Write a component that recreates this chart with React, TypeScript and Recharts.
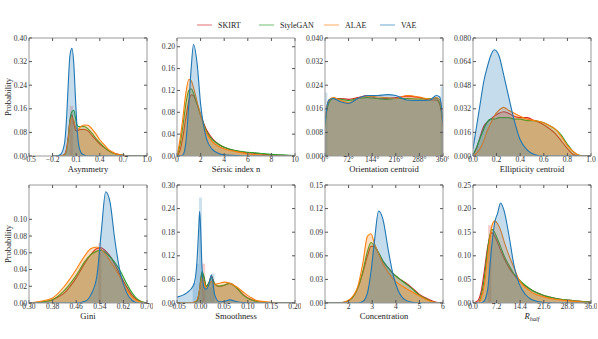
import React from 'react';
import { ComposedChart, Area, XAxis, YAxis, ReferenceArea } from 'recharts';

const FONT = '"Liberation Serif", "DejaVu Serif", serif';
const C_SKIRT = '#d62728';
const C_STYLEGAN = '#2ca02c';
const C_ALAE = '#ff7f0e';
const C_VAE = '#1f77b4';

const legendNames = ['SKIRT', 'StyleGAN', 'ALAE', 'VAE'];

// Panel 1: Asymmetry
const asymX = [-0.2, -0.15, -0.1, -0.05, -0.02, 0, 0.02, 0.045, 0.07, 0.09, 0.11, 0.13, 0.16, 0.2, 0.25, 0.3, 0.35, 0.4, 0.45, 0.5, 0.55, 0.6, 0.7, 0.8, 1.0];
const asymSkirt = [0, 0, 0, 0.005, 0.03, 0.07, 0.12, 0.14, 0.11, 0.088, 0.085, 0.088, 0.09, 0.09, 0.085, 0.07, 0.055, 0.04, 0.03, 0.02, 0.013, 0.008, 0.002, 0, 0];
const asymStyleGAN = [0, 0, 0, 0.003, 0.02, 0.06, 0.12, 0.15, 0.155, 0.13, 0.105, 0.1, 0.1, 0.1, 0.092, 0.078, 0.06, 0.045, 0.032, 0.02, 0.012, 0.007, 0.002, 0, 0];
const asymALAE = [0, 0, 0, 0.004, 0.025, 0.06, 0.11, 0.13, 0.12, 0.1, 0.09, 0.092, 0.1, 0.105, 0.104, 0.092, 0.075, 0.055, 0.04, 0.025, 0.015, 0.008, 0.002, 0, 0];
const asymVAE = [0, 0, 0.005, 0.04, 0.14, 0.25, 0.34, 0.365, 0.31, 0.2, 0.1, 0.04, 0.012, 0.003, 0, 0, 0, 0, 0, 0, 0, 0, 0, 0, 0];
const asymHistEdges = [0.017, 0.06];
const asymHistSkirt = [0.17];

// Panel 2: Sersic index
const sersicX = [0, 0.25, 0.5, 0.75, 1.0, 1.2, 1.4, 1.7, 2.0, 2.5, 3, 3.5, 4, 5, 6, 7, 8, 9, 10];
const sersicSkirt = [0, 0.01, 0.035, 0.07, 0.1, 0.112, 0.11, 0.095, 0.075, 0.048, 0.032, 0.022, 0.016, 0.009, 0.006, 0.004, 0.002, 0.001, 0.0005];
const sersicStyleGAN = [0, 0.02, 0.055, 0.095, 0.12, 0.123, 0.115, 0.095, 0.075, 0.045, 0.03, 0.022, 0.016, 0.01, 0.007, 0.005, 0.003, 0.002, 0.001];
const sersicALAE = [0, 0.03, 0.07, 0.115, 0.14, 0.138, 0.125, 0.1, 0.075, 0.042, 0.026, 0.018, 0.013, 0.008, 0.004, 0.002, 0.001, 0.0005, 0];
const sersicVAE = [0, 0, 0.002, 0.025, 0.095, 0.16, 0.204, 0.17, 0.095, 0.032, 0.012, 0.005, 0.002, 0.001, 0, 0, 0, 0, 0];

// Panel 3: Orientation centroid
const orientX = [0, 5, 12, 25, 45, 72, 100, 130, 160, 190, 216, 250, 288, 320, 340, 350, 355, 360];
const orientSkirt = [0.011, 0.016, 0.0185, 0.0195, 0.0195, 0.0192, 0.0198, 0.0205, 0.0195, 0.0195, 0.0198, 0.0203, 0.0198, 0.019, 0.019, 0.0175, 0.015, 0.01];
const orientStyleGAN = [0.01, 0.015, 0.018, 0.0195, 0.0193, 0.0188, 0.0195, 0.0198, 0.0195, 0.0192, 0.0195, 0.0195, 0.0193, 0.0195, 0.0195, 0.018, 0.0155, 0.011];
const orientALAE = [0.011, 0.016, 0.019, 0.0198, 0.019, 0.018, 0.0195, 0.0203, 0.02, 0.0198, 0.0195, 0.0205, 0.02, 0.0193, 0.0198, 0.019, 0.0165, 0.0105];
const orientVAE = [0.011, 0.016, 0.019, 0.0195, 0.0185, 0.0178, 0.0195, 0.0205, 0.0205, 0.0208, 0.0205, 0.019, 0.0188, 0.019, 0.0205, 0.02, 0.017, 0.011];
const orientHistEdges = [0, 7.2, 352.8, 360];
const orientHistVAE = [0.0215, 0, 0.0235];

// Panel 4: Ellipticity centroid
const ellipX = [0, 0.03, 0.06, 0.09, 0.12, 0.15, 0.18, 0.22, 0.26, 0.3, 0.35, 0.4, 0.46, 0.52, 0.58, 0.64, 0.7, 0.75, 0.8, 0.85, 0.9, 1.0];
const ellipSkirt = [0.001, 0.005, 0.013, 0.02, 0.023, 0.025, 0.027, 0.029, 0.03, 0.029, 0.027, 0.026, 0.026, 0.024, 0.022, 0.019, 0.015, 0.01, 0.005, 0.001, 0, 0];
const ellipStyleGAN = [0.001, 0.006, 0.012, 0.018, 0.023, 0.025, 0.025, 0.026, 0.026, 0.026, 0.025, 0.025, 0.024, 0.024, 0.023, 0.021, 0.018, 0.014, 0.008, 0.003, 0.0005, 0];
const ellipALAE = [0, 0.002, 0.005, 0.01, 0.017, 0.022, 0.027, 0.031, 0.033, 0.031, 0.029, 0.027, 0.025, 0.024, 0.023, 0.021, 0.018, 0.013, 0.007, 0.003, 0.0005, 0];
const ellipVAE = [0.005, 0.02, 0.035, 0.05, 0.06, 0.068, 0.072, 0.068, 0.055, 0.041, 0.024, 0.011, 0.004, 0.001, 0, 0, 0, 0, 0, 0, 0, 0];

// Panel 5: Gini
const giniX = [0.3, 0.34, 0.38, 0.42, 0.46, 0.49, 0.51, 0.53, 0.545, 0.56, 0.575, 0.59, 0.61, 0.63, 0.65, 0.67, 0.7];
const giniSkirt = [0, 0.001, 0.004, 0.012, 0.03, 0.048, 0.058, 0.065, 0.066, 0.062, 0.056, 0.047, 0.033, 0.02, 0.009, 0.003, 0];
const giniStyleGAN = [0, 0.001, 0.004, 0.015, 0.033, 0.05, 0.058, 0.062, 0.063, 0.06, 0.055, 0.049, 0.038, 0.024, 0.012, 0.004, 0];
const giniALAE = [0, 0.002, 0.006, 0.02, 0.04, 0.057, 0.065, 0.067, 0.064, 0.058, 0.05, 0.042, 0.03, 0.016, 0.007, 0.002, 0];
const giniVAE = [0, 0, 0, 0, 0, 0.002, 0.01, 0.032, 0.085, 0.133, 0.12, 0.078, 0.035, 0.013, 0.003, 0, 0];
const giniHistEdges = [0.535, 0.545];
const giniHistSkirt = [0.072];

// Panel 6: Smoothness
const smoothX = [-0.05, -0.03, -0.015, -0.008, -0.004, -0.002, 0.0, 0.003, 0.007, 0.012, 0.017, 0.023, 0.03, 0.04, 0.05, 0.062, 0.075, 0.09, 0.105, 0.12, 0.15, 0.2];
const smoothSkirt = [0, 0, 0.001, 0.005, 0.02, 0.035, 0.055, 0.075, 0.065, 0.042, 0.05, 0.068, 0.048, 0.042, 0.045, 0.05, 0.04, 0.022, 0.01, 0.004, 0.001, 0];
const smoothStyleGAN = [0, 0, 0.001, 0.005, 0.02, 0.035, 0.058, 0.08, 0.068, 0.043, 0.05, 0.065, 0.048, 0.043, 0.046, 0.05, 0.04, 0.02, 0.009, 0.004, 0.001, 0];
const smoothALAE = [0, 0, 0.002, 0.007, 0.022, 0.035, 0.05, 0.065, 0.055, 0.037, 0.045, 0.055, 0.048, 0.05, 0.053, 0.05, 0.042, 0.028, 0.015, 0.006, 0.002, 0];
const smoothVAE = [0.015, 0.025, 0.045, 0.1, 0.19, 0.233, 0.19, 0.09, 0.04, 0.035, 0.045, 0.072, 0.02, 0.003, 0.004, 0.008, 0.004, 0.001, 0, 0, 0, 0];
const smoothHistEdges = [-0.0167, -0.01, -0.0035, 0.003, 0.0097, 0.0163, 0.023, 0.0297];
const smoothHistVAE = [0.05, 0.1, 0.268, 0.06, 0.035, 0.04, 0.075];
const smoothHistSkirt = [0, 0, 0, 0.1, 0, 0, 0];

// Panel 7: Concentration
const concX = [1, 1.5, 1.8, 2.1, 2.4, 2.6, 2.8, 2.95, 3.1, 3.27, 3.45, 3.7, 3.9, 4.1, 4.4, 4.7, 5.0, 5.3, 5.6, 6];
const concSkirt = [0, 0, 0.001, 0.005, 0.02, 0.038, 0.06, 0.072, 0.072, 0.063, 0.053, 0.044, 0.037, 0.032, 0.026, 0.019, 0.011, 0.006, 0.002, 0];
const concStyleGAN = [0, 0, 0.001, 0.005, 0.02, 0.04, 0.066, 0.077, 0.072, 0.064, 0.054, 0.044, 0.037, 0.032, 0.025, 0.018, 0.01, 0.005, 0.001, 0];
const concALAE = [0, 0, 0.001, 0.006, 0.022, 0.05, 0.085, 0.088, 0.075, 0.063, 0.05, 0.038, 0.03, 0.025, 0.019, 0.014, 0.009, 0.004, 0.001, 0];
const concVAE = [0, 0, 0, 0, 0, 0.002, 0.013, 0.04, 0.08, 0.117, 0.107, 0.064, 0.034, 0.016, 0.004, 0.001, 0, 0, 0, 0];

// Panel 8: R_half
const rhalfX = [0, 1.5, 2.5, 3.5, 4.5, 5.7, 6.6, 7.5, 8.4, 9.5, 11, 12.5, 14, 16, 18, 21.6, 25, 28.8, 32, 36];
const rhalfSkirt = [0, 0.005, 0.025, 0.07, 0.12, 0.149, 0.142, 0.128, 0.112, 0.095, 0.075, 0.06, 0.048, 0.036, 0.027, 0.016, 0.01, 0.006, 0.004, 0.002];
const rhalfStyleGAN = [0, 0, 0.015, 0.055, 0.115, 0.156, 0.15, 0.135, 0.12, 0.1, 0.08, 0.062, 0.05, 0.037, 0.027, 0.016, 0.01, 0.006, 0.004, 0.002];
const rhalfALAE = [0, 0, 0.01, 0.04, 0.1, 0.162, 0.174, 0.168, 0.155, 0.13, 0.1, 0.075, 0.05, 0.033, 0.022, 0.013, 0.008, 0.005, 0.003, 0.001];
const rhalfVAE = [0, 0, 0, 0.005, 0.03, 0.12, 0.17, 0.19, 0.212, 0.195, 0.142, 0.08, 0.042, 0.018, 0.007, 0.001, 0, 0, 0, 0];
const rhalfHistEdges = [4.6, 5.6];
const rhalfHistSkirt = [0.165];

// Tick values
const asymXTicks = [-0.5, -0.2, 0.1, 0.4, 0.7, 1.0];
const asymYTicks = [0, 0.08, 0.16, 0.24, 0.32, 0.4];
const sersicXTicks = [0, 2, 4, 6, 8, 10];
const sersicYTicks = [0, 0.04, 0.08, 0.12, 0.16, 0.2];
const orientXTicks = [0, 72, 144, 216, 288, 360];
const orientYTicks = [0, 0.008, 0.016, 0.024, 0.032, 0.04];
const ellipXTicks = [0, 0.2, 0.4, 0.6, 0.8, 1.0];
const ellipYTicks = [0, 0.016, 0.032, 0.048, 0.064, 0.08];
const giniXTicks = [0.3, 0.38, 0.46, 0.54, 0.62, 0.7];
const giniYTicks = [0, 0.02, 0.04, 0.06, 0.08, 0.1];
const smoothXTicks = [-0.05, 0, 0.05, 0.1, 0.15, 0.2];
const smoothYTicks = [0, 0.06, 0.12, 0.18, 0.24, 0.3];
const concXTicks = [1, 2, 3, 4, 5, 6];
const concYTicks = [0, 0.03, 0.06, 0.09, 0.12, 0.15];
const rhalfXTicks = [0, 7.2, 14.4, 21.6, 28.8, 36];
const rhalfYTicks = [0, 0.05, 0.1, 0.15, 0.2, 0.25];

const fmt = (d: number) => (v: number) => {
  const s = v.toFixed(d);
  return s.startsWith('-') ? '\u2212' + s.slice(1) : s;
};
const deg = (v: number) => `${v}\u00b0`;

type Hist = { edges: number[]; values: number[]; color: string };

type PanelDef = {
  xs: number[]; skirt: number[]; stylegan: number[]; alae: number[]; vae: number[];
  xDomain: [number, number]; xTicks: number[]; xFmt: (v: number) => string;
  yDomain: [number, number]; yTicks: number[]; yFmt: (v: number) => string;
  label: React.ReactNode; left: number; top: number; yLabel?: boolean; hists?: Hist[];
};

const W = 118;
const H = 118;
const YW = 30;
const XH = 22;
const MT = 3;
const MR = 5;

const TICK_STYLE = { fontSize: 7.6, fill: '#333', fontFamily: FONT };
const FRAME = { stroke: '#9a9a9a' };
const TICKLINE = { stroke: '#555' };

const makeXLabel = (content: React.ReactNode) => (props: any) => {
  const vb = props.viewBox || { x: 0, y: 0, width: 0, height: 0 };
  return (
    <text x={vb.x + vb.width / 2} y={vb.y + 15.5} textAnchor="middle" fontSize={8.6} fontFamily={FONT} fill="#222">
      {content}
    </text>
  );
};

const yLabelContent = (props: any) => {
  const vb = props.viewBox || { x: 0, y: 0, width: 0, height: 0 };
  const cx = vb.x + 9;
  const cy = vb.y + vb.height / 2;
  return (
    <text x={cx} y={cy} transform={`rotate(-90, ${cx}, ${cy})`} textAnchor="middle" dominantBaseline="central" fontSize={8.6} fontFamily={FONT} fill="#222">
      Probability
    </text>
  );
};

const Panel = ({ p }: { p: PanelDef }) => {
  const data = p.xs.map((x, i) => ({ x, skirt: p.skirt[i], stylegan: p.stylegan[i], alae: p.alae[i], vae: p.vae[i] }));
  const series: [string, string][] = [['skirt', C_SKIRT], ['stylegan', C_STYLEGAN], ['alae', C_ALAE], ['vae', C_VAE]];
  const bars: React.ReactNode[] = [];
  (p.hists || []).forEach((h, hi) => {
    h.values.forEach((v, i) => {
      if (v > 0) {
        bars.push(
          <ReferenceArea key={`h${hi}-${i}`} x1={h.edges[i]} x2={h.edges[i + 1]} y1={0} y2={v}
            fill={h.color} fillOpacity={0.22} stroke="none" ifOverflow="hidden" />
        );
      }
    });
  });
  return (
    <div style={{ position: 'absolute', left: p.left - YW, top: p.top - MT - 1 }}>
      <ComposedChart width={YW + W + 1 + MR} height={MT + 1 + H + XH} data={data} margin={{ top: MT, right: MR, bottom: 0, left: 0 }}>
        <XAxis dataKey="x" type="number" domain={p.xDomain} ticks={p.xTicks} tickFormatter={p.xFmt} allowDataOverflow
          height={XH} interval={0} tick={TICK_STYLE} tickSize={-3} tickMargin={4} axisLine={FRAME} tickLine={TICKLINE}
          label={makeXLabel(p.label)} />
        <XAxis xAxisId="top" orientation="top" dataKey="x" type="number" domain={p.xDomain} ticks={p.xTicks} tickFormatter={() => ''}
          allowDataOverflow height={1} interval={0} tick={TICK_STYLE} tickSize={-3} tickMargin={0} axisLine={FRAME} tickLine={TICKLINE} />
        <YAxis type="number" domain={p.yDomain} ticks={p.yTicks} tickFormatter={p.yFmt} allowDataOverflow width={YW} interval={0}
          tick={TICK_STYLE} tickSize={-3} tickMargin={5} axisLine={FRAME} tickLine={TICKLINE}
          label={p.yLabel ? yLabelContent : undefined} />
        <YAxis yAxisId="right" orientation="right" type="number" domain={p.yDomain} ticks={p.yTicks} tickFormatter={() => ''}
          allowDataOverflow width={1} interval={0} tick={TICK_STYLE} tickSize={-3} tickMargin={0} axisLine={FRAME} tickLine={TICKLINE} />
        {bars}
        {series.map(([k, c]) => (
          <Area key={k} type="monotone" dataKey={k} stroke={c} strokeWidth={1.1} fill={c} fillOpacity={0.26}
            dot={false} activeDot={false} isAnimationActive={false} />
        ))}
      </ComposedChart>
    </div>
  );
};

const LEFTS = [29, 177, 325, 473];
const TOPS = [38, 185];

const panels: PanelDef[] = [
  { xs: asymX, skirt: asymSkirt, stylegan: asymStyleGAN, alae: asymALAE, vae: asymVAE, xDomain: [-0.5, 1.0], xTicks: asymXTicks, xFmt: fmt(1),
    yDomain: [0, 0.4], yTicks: asymYTicks, yFmt: fmt(2), label: 'Asymmetry', left: LEFTS[0], top: TOPS[0], yLabel: true,
    hists: [{ edges: asymHistEdges, values: asymHistSkirt, color: C_SKIRT }] },
  { xs: sersicX, skirt: sersicSkirt, stylegan: sersicStyleGAN, alae: sersicALAE, vae: sersicVAE, xDomain: [0, 10], xTicks: sersicXTicks, xFmt: fmt(0),
    yDomain: [0, 0.216], yTicks: sersicYTicks, yFmt: fmt(2), label: 'S\u00e9rsic index n', left: LEFTS[1], top: TOPS[0] },
  { xs: orientX, skirt: orientSkirt, stylegan: orientStyleGAN, alae: orientALAE, vae: orientVAE, xDomain: [0, 360], xTicks: orientXTicks, xFmt: deg,
    yDomain: [0, 0.04], yTicks: orientYTicks, yFmt: fmt(3), label: 'Orientation centroid', left: LEFTS[2], top: TOPS[0],
    hists: [{ edges: orientHistEdges, values: orientHistVAE, color: C_VAE }] },
  { xs: ellipX, skirt: ellipSkirt, stylegan: ellipStyleGAN, alae: ellipALAE, vae: ellipVAE, xDomain: [0, 1], xTicks: ellipXTicks, xFmt: fmt(1),
    yDomain: [0, 0.08], yTicks: ellipYTicks, yFmt: fmt(3), label: 'Ellipticity centroid', left: LEFTS[3], top: TOPS[0] },
  { xs: giniX, skirt: giniSkirt, stylegan: giniStyleGAN, alae: giniALAE, vae: giniVAE, xDomain: [0.3, 0.7], xTicks: giniXTicks, xFmt: fmt(2),
    yDomain: [0, 0.141], yTicks: giniYTicks, yFmt: fmt(2), label: 'Gini', left: LEFTS[0], top: TOPS[1], yLabel: true,
    hists: [{ edges: giniHistEdges, values: giniHistSkirt, color: C_SKIRT }] },
  { xs: smoothX, skirt: smoothSkirt, stylegan: smoothStyleGAN, alae: smoothALAE, vae: smoothVAE, xDomain: [-0.05, 0.2], xTicks: smoothXTicks, xFmt: fmt(2),
    yDomain: [0, 0.3], yTicks: smoothYTicks, yFmt: fmt(2), label: 'Smoothness', left: LEFTS[1], top: TOPS[1],
    hists: [{ edges: smoothHistEdges, values: smoothHistVAE, color: C_VAE }, { edges: smoothHistEdges, values: smoothHistSkirt, color: C_SKIRT }] },
  { xs: concX, skirt: concSkirt, stylegan: concStyleGAN, alae: concALAE, vae: concVAE, xDomain: [1, 6], xTicks: concXTicks, xFmt: fmt(0),
    yDomain: [0, 0.15], yTicks: concYTicks, yFmt: fmt(2), label: 'Concentration', left: LEFTS[2], top: TOPS[1] },
  { xs: rhalfX, skirt: rhalfSkirt, stylegan: rhalfStyleGAN, alae: rhalfALAE, vae: rhalfVAE, xDomain: [0, 36], xTicks: rhalfXTicks, xFmt: fmt(1),
    yDomain: [0, 0.25], yTicks: rhalfYTicks, yFmt: fmt(2),
    label: (<><tspan fontStyle="italic">R</tspan><tspan fontStyle="italic" fontSize={6.2} dy={2}>half</tspan></>), left: LEFTS[3], top: TOPS[1],
    hists: [{ edges: rhalfHistEdges, values: rhalfHistSkirt, color: C_SKIRT }] },
];

const legendColors = [C_SKIRT, C_STYLEGAN, C_ALAE, C_VAE];
const legendX = [197, 259, 324, 380];

const Legend = () => (
  <svg width={598} height={40} style={{ position: 'absolute', left: 0, top: 0 }}>
    {legendNames.map((n, i) => (
      <g key={n}>
        <line x1={legendX[i]} x2={legendX[i] + 15} y1={25} y2={25} stroke={legendColors[i]} strokeOpacity={0.6} strokeWidth={1.1} />
        <text x={legendX[i] + 21} y={25} dominantBaseline="central" fontSize={8} fontFamily={FONT} fill="#222">{n}</text>
      </g>
    ))}
  </svg>
);

export default function App() {
  return (
    <div style={{ position: 'absolute', left: 0, top: 0, width: 598, height: 339, background: '#fff', overflow: 'hidden' }}>
      <Legend />
      {panels.map((p, i) => <Panel key={i} p={p} />)}
    </div>
  );
}
